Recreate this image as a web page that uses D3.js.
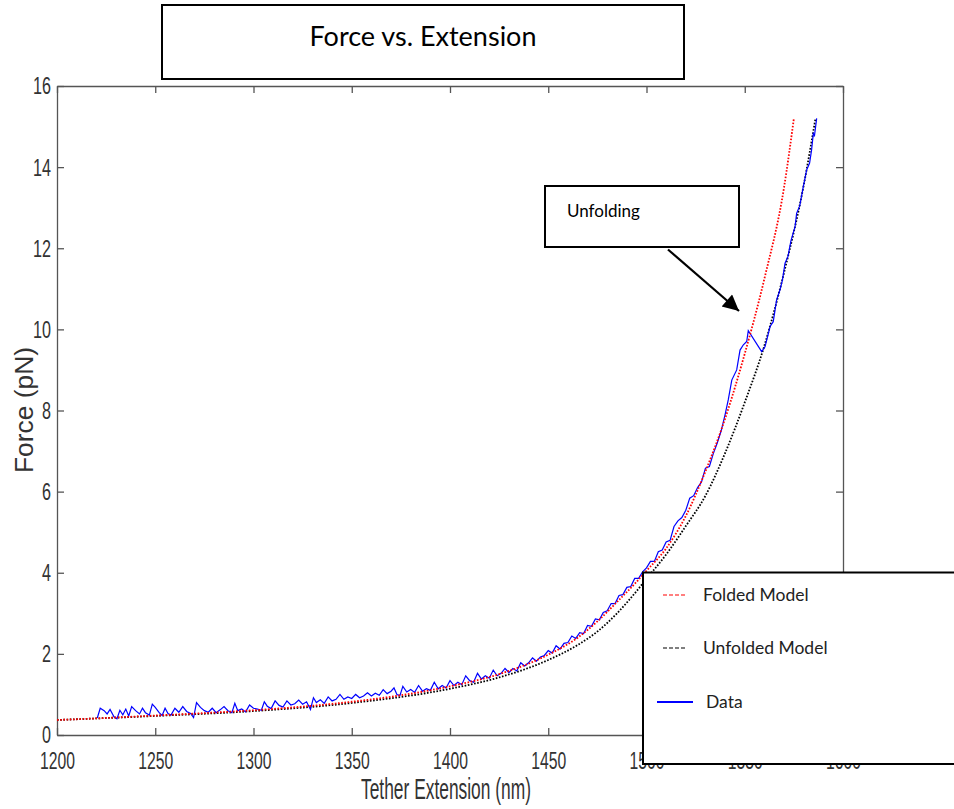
<!DOCTYPE html>
<html><head><meta charset="utf-8">
<script src="https://cdn.jsdelivr.net/npm/d3@7/dist/d3.min.js"></script>
<style>html,body{margin:0;padding:0;background:#fff;}</style>
</head><body><svg id="c" width="954" height="809"></svg>
<script>
const xTicks = [1200,1250,1300,1350,1400,1450,1500,1550,1600];
const yTicks = [0,2,4,6,8,10,12,14,16];

const foldedExt   = [1200,1225,1250,1275,1300,1325,1350,1375,1400,1425,1450,1465,1475,1485,1495,1500,1510,1520,1530,1540,1550,1560,1570,1575];
const foldedForce = [0.37,0.42,0.48,0.54,0.61,0.70,0.82,0.98,1.20,1.50,1.98,2.40,2.80,3.28,3.78,4.05,4.60,5.40,6.50,7.80,9.40,11.25,13.50,15.20];

const unfoldedExt   = [1200,1250,1300,1350,1400,1425,1450,1465,1475,1485,1495,1500,1510,1520,1530,1540,1550,1560,1570,1580,1586];
const unfoldedForce = [0.37,0.47,0.59,0.79,1.14,1.42,1.85,2.22,2.55,3.00,3.55,3.85,4.45,5.15,5.90,6.95,8.20,9.60,11.40,13.55,15.20];

const dataExt = [1220.5,1222,1224,1225.5,1227,1229,1230.5,1232,1233.5,1235,1236.5,1238,1240,1242,1243.5,1245,1247,1248.5,1250,1252,1253.5,1255,1256.5,1258,1260,1262,1264,1266,1268,1269.5,1271,1273,1275,1277,1279,1281,1283,1285,1287,1289,1290.5,1292,1294,1296,1298,1300,1302,1304,1305.5,1307,1309,1311,1313,1315,1317,1319,1321,1323,1325,1327,1329,1330.5,1332,1334,1336,1338,1340,1342,1344,1346,1348,1350,1352,1354,1356,1358,1360,1362,1364,1366,1368,1370,1371.5,1373,1374.5,1376,1378,
1380,1382,1384,1386,1388,1390,1392,1394,1396,1398,1400,1402,1404,1406,1408,1410,1412,1414,1416,1418,1420,1422,1424,1426,1428,1430,1432,1434,1436,1438,1440,1442,1444,1446,1448,1450,1452,1454,1456,1458,1460,1462,1464,1466,1468,1470,1472,1474,1476,1478,1480,1482,1484,1486,1488,1490,1492,1494,1496,1498,1500,1502,1504,1506,1508,1510,1512,1514,1516,1518,1520,1522,1524,1526,1528,1530,1532,1534,1536,1538,1540,1541.6,1543.4,1545.9,1547.6,1549.3,1551,1551.8,1558.6,1560.3,1562.9,1564.5,1566.2,1567.9,1569.2,1570.5,1572,1573.5,1575.6,1576.4,1578,1579.8,1581.5,1583,1584,1584.9,1585.5,1586.6];
const dataForce = [0.42,0.66,0.60,0.52,0.63,0.45,0.40,0.61,0.50,0.64,0.47,0.70,0.60,0.52,0.66,0.55,0.49,0.76,0.68,0.55,0.48,0.66,0.53,0.49,0.66,0.56,0.70,0.58,0.53,0.43,0.80,0.68,0.60,0.56,0.66,0.55,0.62,0.70,0.60,0.55,0.78,0.60,0.64,0.57,0.74,0.66,0.64,0.61,0.82,0.71,0.65,0.84,0.73,0.69,0.84,0.74,0.77,0.86,0.76,0.82,0.63,0.92,0.80,0.87,0.78,0.94,0.84,0.88,1.00,0.88,0.94,0.90,1.00,0.92,0.96,1.04,0.96,1.03,0.98,1.12,1.02,1.08,1.16,1.00,0.97,1.20,1.06,
1.12,1.05,1.22,1.08,1.14,1.10,1.30,1.14,1.22,1.16,1.34,1.22,1.30,1.24,1.46,1.34,1.30,1.52,1.38,1.46,1.40,1.60,1.46,1.52,1.64,1.54,1.64,1.58,1.78,1.70,1.78,1.90,1.82,1.92,1.96,2.08,2.02,2.20,2.12,2.26,2.28,2.44,2.38,2.52,2.50,2.70,2.68,2.86,2.84,3.02,3.06,3.24,3.24,3.44,3.46,3.64,3.66,3.86,3.86,4.02,4.12,4.28,4.28,4.52,4.56,4.76,4.80,5.14,5.28,5.36,5.54,5.84,5.90,6.10,6.24,6.58,6.62,6.94,7.20,7.50,7.90,8.26,8.75,9.00,9.49,9.62,9.70,9.97,9.45,9.57,10.07,10.19,10.72,10.97,11.22,11.63,11.80,12.18,12.53,12.86,13.05,13.52,13.93,14.10,14.42,14.83,14.78,15.20];

const svg = d3.select("#c");
const L=57,R=843,T=86,B=735;
const x = d3.scaleLinear().domain([1200,1600]).range([L,R]);
const y = d3.scaleLinear().domain([0,16]).range([B,T]);
const axisColor = "#555";
const tickFont = "'Liberation Sans', Arial, sans-serif";

// axes
const gb = svg.append("g").attr("transform",`translate(0,${B})`)
  .call(d3.axisBottom(x).tickValues(xTicks).tickSize(-7).tickSizeOuter(0).tickFormat(d3.format("d")));
gb.selectAll("text").attr("y",34).attr("dy",null)
  .attr("font-family",tickFont).attr("font-size",24).attr("fill","#333")
  .attr("textLength",35).attr("lengthAdjust","spacingAndGlyphs");
const gt = svg.append("g").attr("transform",`translate(0,${T})`)
  .call(d3.axisTop(x).tickValues(xTicks).tickSize(-7).tickSizeOuter(0).tickFormat(""));
const gl = svg.append("g").attr("transform",`translate(${L},0)`)
  .call(d3.axisLeft(y).tickValues(yTicks).tickSize(-7).tickSizeOuter(0).tickFormat(d3.format("d")));
gl.selectAll("text").attr("x",-6).attr("dy","0.33em")
  .attr("font-family",tickFont).attr("font-size",24).attr("fill","#333")
  .attr("textLength",d=>String(d).length*9).attr("lengthAdjust","spacingAndGlyphs");
const gr = svg.append("g").attr("transform",`translate(${R},0)`)
  .call(d3.axisRight(y).tickValues(yTicks).tickSize(-7).tickSizeOuter(0).tickFormat(""));
[gb,gt,gl,gr].forEach(g=>{
  g.selectAll(".domain").attr("stroke",axisColor).attr("stroke-width",1.3);
  g.selectAll(".tick line").attr("stroke",axisColor).attr("stroke-width",1.3);
});

// axis titles
svg.append("text").attr("x",446).attr("y",799).attr("text-anchor","middle")
  .attr("font-family",tickFont).attr("font-size",30).attr("fill","#333")
  .attr("textLength",170).attr("lengthAdjust","spacingAndGlyphs")
  .text("Tether Extension (nm)");
svg.append("text").attr("transform","translate(33,410) rotate(-90)").attr("text-anchor","middle")
  .attr("font-family",tickFont).attr("font-size",25).attr("fill","#333")
  .attr("textLength",126).attr("lengthAdjust","spacingAndGlyphs")
  .text("Force (pN)");

// lines
const plot = svg.append("g");
const zipped = (xs,ys)=>xs.map((v,i)=>[v,ys[i]]);
const smooth = d3.line().x(d=>x(d[0])).y(d=>y(d[1])).curve(d3.curveMonotoneX);
const straight = d3.line().x(d=>x(d[0])).y(d=>y(d[1]));
plot.append("path").attr("d",smooth(zipped(unfoldedExt,unfoldedForce)))
  .attr("fill","none").attr("stroke","#000").attr("stroke-width",1.8).attr("stroke-dasharray","1.6,1.6");
plot.append("path").attr("d",straight(zipped(dataExt,dataForce)))
  .attr("fill","none").attr("stroke","#0000ff").attr("stroke-width",1.2);
plot.append("path").attr("d",smooth(zipped(foldedExt,foldedForce)))
  .attr("fill","none").attr("stroke","#ff0000").attr("stroke-width",1.8).attr("stroke-dasharray","1.6,1.6");

const lato = "Lato, 'Noto Sans', sans-serif";
// title box
svg.append("rect").attr("x",162).attr("y",5).attr("width",522).attr("height",74)
  .attr("fill","#fff").attr("stroke","#000").attr("stroke-width",2);
svg.append("text").attr("x",423).attr("y",46).attr("text-anchor","middle")
  .attr("font-family",lato).attr("font-size",27).attr("fill","#000").text("Force vs. Extension");

// Unfolding annotation
svg.append("rect").attr("x",545).attr("y",186).attr("width",194).attr("height",61)
  .attr("fill","#fff").attr("stroke","#000").attr("stroke-width",2);
svg.append("text").attr("x",567).attr("y",216.5)
  .attr("font-family",lato).attr("font-size",17).attr("fill","#000").text("Unfolding");
svg.append("defs").append("marker").attr("id","ah").attr("viewBox","0 0 10 10")
  .attr("refX",10).attr("refY",5).attr("markerWidth",19).attr("markerHeight",16)
  .attr("markerUnits","userSpaceOnUse").attr("orient","auto")
  .append("path").attr("d","M0,0L10,5L0,10Z").attr("fill","#000");
svg.append("line").attr("x1",668).attr("y1",249.5).attr("x2",739).attr("y2",311)
  .attr("stroke","#000").attr("stroke-width",2.2).attr("marker-end","url(#ah)");

// legend
const lg = svg.append("g");
lg.append("rect").attr("x",643).attr("y",572.5).attr("width",320).attr("height",191.5)
  .attr("fill","#fff").attr("stroke","#000").attr("stroke-width",2);
const legendItems = [
  {label:"Folded Model", color:"#ff0000", dash:"4,2", y:595, x1:663, x2:687, tx:703, w:1.2},
  {label:"Unfolded Model", color:"#000", dash:"4,2", y:648, x1:663, x2:687, tx:703, w:1.2},
  {label:"Data", color:"#0000ff", dash:null, y:702, x1:657, x2:693, tx:706, w:2.2}
];
legendItems.forEach(it=>{
  lg.append("line").attr("x1",it.x1).attr("x2",it.x2).attr("y1",it.y).attr("y2",it.y)
    .attr("stroke",it.color).attr("stroke-width",it.w).attr("stroke-dasharray",it.dash);
  lg.append("text").attr("x",it.tx).attr("y",it.y+6)
    .attr("font-family",lato).attr("font-size",17.5).attr("fill","#222").text(it.label);
});
</script></body></html>
